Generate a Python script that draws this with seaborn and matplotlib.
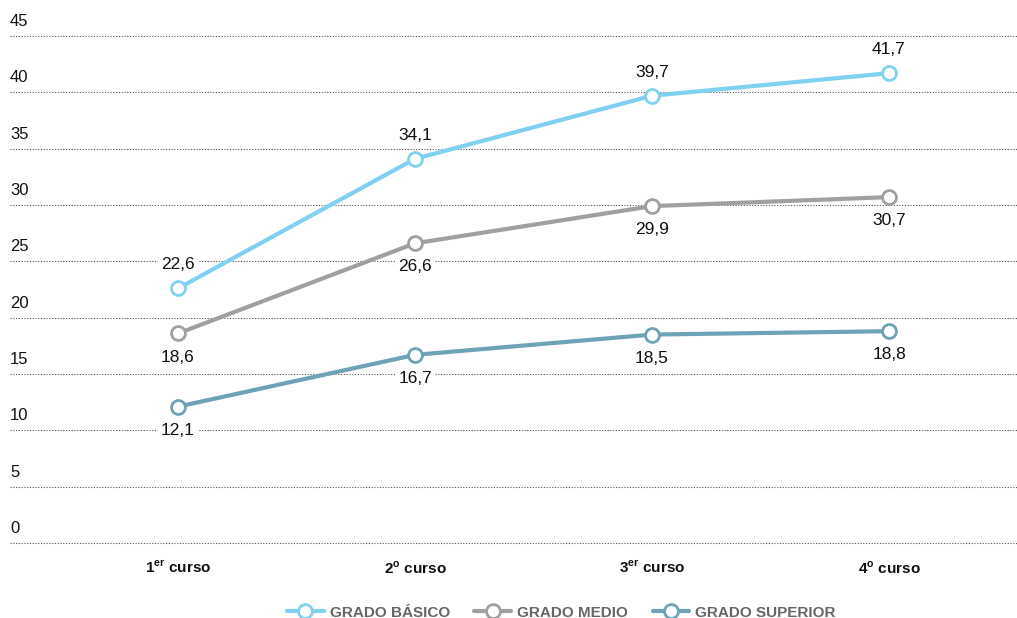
import matplotlib
matplotlib.use("Agg")
import matplotlib.pyplot as plt
import matplotlib.transforms as mtransforms
import numpy as np
import pandas as pd
import seaborn as sns

# data
courses = ['1$^{\\mathbf{er}}$ curso', '2$^{\\mathbf{o}}$ curso',
           '3$^{\\mathbf{er}}$ curso', '4$^{\\mathbf{o}}$ curso']
series = ['GRADO BÁSICO', 'GRADO MEDIO', 'GRADO SUPERIOR']
basico = [22.6, 34.1, 39.7, 41.7]
medio = [18.6, 26.6, 29.9, 30.7]
superior = [12.1, 16.7, 18.5, 18.8]
y_ticks = [0, 5, 10, 15, 20, 25, 30, 35, 40, 45]

colors = ['#80d0f0', '#a0a0a0', '#6ea2b6']
label_side = [1, -1, -1]  # above / below the point

sns.set_style('white')
plt.rcParams['font.family'] = ['Liberation Sans', 'DejaVu Sans']
plt.rcParams['mathtext.fontset'] = 'custom'
plt.rcParams['mathtext.rm'] = 'Liberation Sans'
plt.rcParams['mathtext.bf'] = 'Liberation Sans:bold'

rows = []
for name, vals in zip(series, [basico, medio, superior]):
    for i, v in enumerate(vals):
        rows.append({'pos': i, 'serie': name, 'valor': v})
df = pd.DataFrame(rows)

fig = plt.figure(figsize=(10.17, 6.18), dpi=100)
ax = fig.add_axes([10 / 1017, 75 / 618, 1007 / 1017, 507 / 618])

sns.lineplot(data=df, x='pos', y='valor', hue='serie', palette=colors,
             hue_order=series, marker='o', markersize=10, markerfacecolor='white',
             markeredgewidth=2, linewidth=3, ax=ax, legend=False, zorder=3)
# set marker edge colours to match the lines
for line, c in zip(ax.lines, colors):
    line.set_markeredgecolor(c)

ax.set_xlim(-168 / 237, 839 / 237)
ax.set_ylim(0, 45)
ax.set_xticks(range(len(courses)))
ax.set_xticklabels(courses, fontsize=11, fontweight='bold', color='#111111')
ax.tick_params(axis='x', length=0, pad=12)
ax.set_yticks([])
ax.set_xlabel('')
ax.set_ylabel('')
sns.despine(ax=ax, left=True, bottom=True, top=True, right=True)

# dotted grid and y labels above each line
for t in y_ticks:
    ax.axhline(t, color='#555555', linestyle=(0, (1, 1.5)), linewidth=0.8,
               zorder=1, clip_on=False)
trans = mtransforms.blended_transform_factory(ax.transAxes, ax.transData)
for t in y_ticks:
    ax.annotate(str(t), xy=(0, t), xycoords=trans, xytext=(0, 10.5),
                textcoords='offset points', ha='left', va='center',
                fontsize=12, color='#111111')

# value labels
for vals, side in zip([basico, medio, superior], label_side):
    for i, v in enumerate(vals):
        ax.annotate(f'{v:.1f}'.replace('.', ','), xy=(i, v), xytext=(0, 17 * side),
                    textcoords='offset points', ha='center', va='center',
                    fontsize=12.5, color='#111111', zorder=4,
                    bbox=dict(boxstyle='square,pad=0.2', fc='white', ec='none'))

handles = [plt.Line2D([], [], color=c, linewidth=3, marker='o', markersize=10,
                      markerfacecolor='white', markeredgewidth=2, markeredgecolor=c)
           for c in colors]
leg = fig.legend(handles, series, loc='lower center', ncol=3, frameon=False,
                 bbox_to_anchor=(0.552, -0.025), handlelength=2.4, handletextpad=0.4,
                 columnspacing=1.6, prop={'size': 11, 'weight': 'bold'})
for txt in leg.get_texts():
    txt.set_color('#666666')

fig.savefig('out.png', dpi=100)
